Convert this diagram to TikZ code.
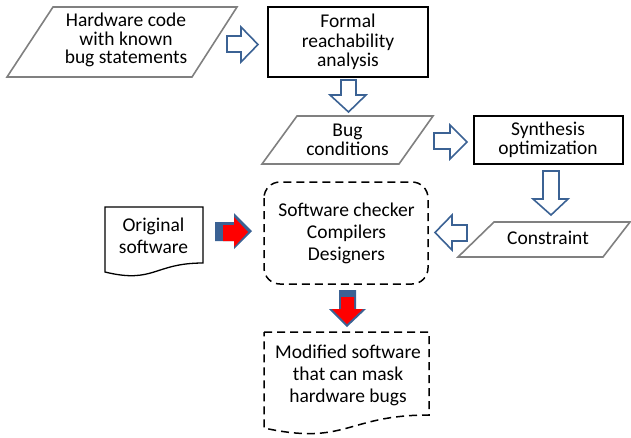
\documentclass[tikz,border=0pt]{standalone}
\usepackage{fontspec}
\setmainfont{Carlito}
\definecolor{arrowblue}{RGB}{59,98,148}
\definecolor{paragray}{RGB}{128,128,128}
\definecolor{redfill}{RGB}{255,0,0}
\tikzset{
  txt/.style={align=center, inner sep=0pt, font=\fontsize{19.5}{#1}\selectfont},
  txt/.default=19.5,
  para/.style={draw=paragray, line width=1.6pt, fill=white, line join=miter},
  proc/.style={draw=black, line width=1.5pt},
  dashbox/.style={draw=black, line width=1.5pt, dash pattern=on 8pt off 5pt},
  hollow/.style={draw=arrowblue, line width=1.6pt, fill=white, line join=miter},
  shadowarrow/.style={fill=arrowblue},
  redarrow/.style={fill=redfill},
  docbox/.style={draw=black, line width=1.3pt}
}
\begin{document}
\begin{tikzpicture}[x=1pt,y=-1pt]
\useasboundingbox (0,0) rectangle (631,437);
% shapes
\draw[para] (53,7) -- (237,7) -- (192,77) -- (7,77) -- cycle;
\draw[proc] (268,7) rectangle (428,77);
\draw[para] (297,116) -- (433,116) -- (399,164) -- (262,164) -- cycle;
\draw[proc] (474,116) rectangle (623,164);
\draw[para] (494,222) -- (630,222) -- (603,257) -- (458,257) -- cycle;
\draw[dashbox, rounded corners=16pt] (264,182) rectangle (428,284);
\draw[docbox] (105,207) -- (203,207) -- (203,263) .. controls (154,263) and (154,284) .. (105,272) -- cycle;
\draw[dashbox] (264,332) -- (429,332) -- (429,415) .. controls (346.5,415) and (346.5,446) .. (264,428) -- cycle;
% text nodes
\node[txt=18.5] (hw) at (126,40) {Hardware code\\with known\\bug statements};
\node[txt=19.5] (formal) at (348,42) {Formal\\reachability\\analysis};
\node[txt=19] (bug) at (347.5,140) {Bug\\conditions};
\node[txt=19] (synth) at (548,140) {Synthesis\\optimization};
\node[txt] (cons) at (548,238) {Constraint};
\node[txt=22] (check) at (346.5,233) {Software checker\\Compilers\\Designers};
\node[txt=22] (orig) at (153.5,236) {Original\\software};
\node[txt=22] (mod) at (348,375) {Modified software\\that can mask\\hardware bugs};
% hollow block arrows
\draw[hollow] (227,36) -- (241,36) -- (241,27) -- (258,44.5) -- (241,62) -- (241,52) -- (227,52) -- cycle;
\draw[hollow] (341,80) -- (356,80) -- (356,95) -- (366,95) -- (348.5,112) -- (330,95) -- (341,95) -- cycle;
\draw[hollow] (434,133) -- (450,133) -- (450,125) -- (467,142) -- (450,159) -- (450,149) -- (434,149) -- cycle;
\draw[hollow] (543,171) -- (559,171) -- (559,199) -- (568,199) -- (551,215) -- (533,199) -- (543,199) -- cycle;
\draw[hollow] (467,225) -- (452,225) -- (452,215) -- (435,232.5) -- (452,250) -- (452,241) -- (467,241) -- cycle;
% red arrows with blue shadow
\fill[shadowarrow] (215,222) -- (234,222) -- (234,213) -- (252,231) -- (234,249) -- (234,241) -- (215,241) -- cycle;
\fill[redarrow] (223,225) -- (234,225) -- (234,217) -- (248,232) -- (234,247) -- (234,241) -- (223,241) -- cycle;
\fill[shadowarrow] (339,290) -- (356,290) -- (356,309) -- (366,309) -- (347,327) -- (329,309) -- (339,309) -- cycle;
\fill[redarrow] (341,297) -- (354,297) -- (354,309) -- (363,309) -- (347,324) -- (332,309) -- (341,309) -- cycle;
\end{tikzpicture}
\end{document}
